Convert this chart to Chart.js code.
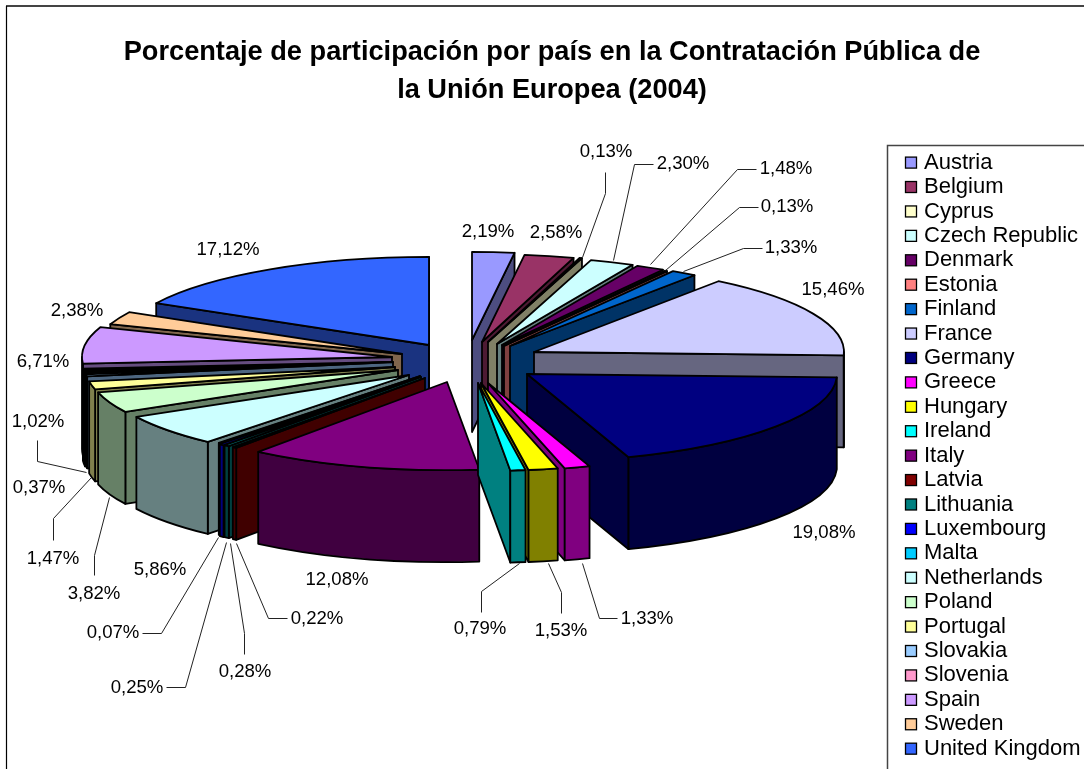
<!DOCTYPE html>
<html><head><meta charset="utf-8">
<script src="https://cdn.jsdelivr.net/npm/chart.js@4"></script>
<style>html,body{margin:0;padding:0;background:#fff}canvas{display:block}</style>
</head><body><canvas id="c" width="1084" height="769"></canvas>
<script>
const countries=["Austria","Belgium","Cyprus","Czech Republic","Denmark","Estonia","Finland","France","Germany","Greece","Hungary","Ireland","Italy","Latvia","Lithuania","Luxembourg","Malta","Netherlands","Poland","Portugal","Slovakia","Slovenia","Spain","Sweden","United Kingdom"];
const shares=[2.19,2.58,0.13,2.30,1.48,0.13,1.33,15.46,19.08,1.33,1.53,0.79,12.08,0.22,0.28,0.25,0.07,5.86,3.82,1.47,0.37,1.02,6.71,2.38,17.12];
const colors=["#9999FF","#993366","#FFFFCC","#CCFFFF","#660066","#FF8080","#0066CC","#CCCCFF","#000080","#FF00FF","#FFFF00","#00FFFF","#800080","#800000","#008080","#0000FF","#00CCFF","#CCFFFF","#CCFFCC","#FFFF99","#99CCFF","#FF99CC","#CC99FF","#FFCC99","#3366FF"];
// the Slovenia wedge renders black in the picture although its legend key is pink
const faceColors=colors.map((col,i)=>countries[i]==="Slovenia"?"#000000":col);
const titleLines=["Porcentaje de participación por país en la Contratación Pública de","la Unión Europea (2004)"];
// explosion of each wedge (px from the pie centre)
const explodeX=[22,32,38,47,52,54,60,84,77,38,31,28,-3,-25,-29,-30,-30,-41,-52,-55,-57,-58,-58,-48,-21];
const explodeY=[-10,-8,-8,-6,-5,-4,-4,2,24,33,33,33,32,28,27,27,26,25,20,17,12,12,7,4,-5];
// label centres and leader lines
const labelX=[488,556,606,683,786,787,791,833,824,647,561,480,337,317,245,137,113,160,94,53,39,38,43,77,228];
const labelY=[232,233,152,164,169,207,248,290,533,619,631,629,580,619,672,688,633,570,594,559,488,422,362,311,250];
const leaders={2:[[582,257],[605,193],[605,172]],3:[[613,260],[634,164],[653,164]],4:[[650,264],[737,169],[756,169]],5:[[665,270],[739,207],[758,207]],6:[[683,271],[743,248],[762,248]],9:[[582,563],[599,618],[617,618]],10:[[548,563],[561,592],[561,613]],11:[[519,563],[481,591],[481,612]],13:[[236,543],[268,618],[287,618]],14:[[230,543],[244,633],[244,654]],15:[[226,542],[185,687],[166,687]],16:[[218,537],[161,633],[142,633]],18:[[109,497],[94,555],[94,575]],19:[[91,477],[53,518],[53,540]],21:[[86,472],[37,461],[37,440]]};
const FONT='"Liberation Sans", Arial, sans-serif';
const PIE={cx:450,cy:350,k:0.284,depth:92,radius:310};

function shade(hex){const n=parseInt(hex.slice(1),16);const d=v=>Math.round(v/2);
  return `rgb(${d(n>>16&255)},${d(n>>8&255)},${d(n&255)})`;}

const pie3d={id:'pie3d',
  beforeDraw(chart){const c=chart.ctx;c.save();c.fillStyle='#fff';c.fillRect(0,0,1084,769);
    c.strokeStyle='#444';c.lineWidth=2;c.beginPath();c.moveTo(1084,6);c.lineTo(6,6);c.stroke();
    c.strokeStyle='#000';c.lineWidth=1.2;c.beginPath();c.moveTo(6.5,6);c.lineTo(6.5,769);c.stroke();c.restore();},
  beforeDatasetsDraw(chart){
    const c=chart.ctx,meta=chart.getDatasetMeta(0),{k,depth}=PIE;
    const slices=meta.data.map((arc,i)=>{
      const px=PIE.cx+explodeX[i],py=PIE.cy+explodeY[i],R=arc.outerRadius,mid=(arc.startAngle+arc.endAngle)/2;
      return {arc,i,px,py,R,order:py+k*R*0.6*Math.sin(mid)};
    }).sort((a,b)=>a.order-b.order);
    c.save();c.lineJoin='round';c.lineWidth=1.8;c.strokeStyle='#000';
    for(const s of slices){
      const {arc,i,px,py,R}=s,A=arc.startAngle,B=arc.endAngle,dark=shade(faceColors[i]);
      const P=(a,z)=>[px+R*Math.cos(a),py+k*R*Math.sin(a)+z];
      const cut=a=>{const p=P(a,0);c.beginPath();c.moveTo(px,py);c.lineTo(p[0],p[1]);c.lineTo(p[0],p[1]+depth);c.lineTo(px,py+depth);c.closePath();c.fillStyle=dark;c.fill();c.stroke();};
      if(Math.sin(A-Math.PI/2)>0)cut(A);
      if(Math.sin(B+Math.PI/2)>0)cut(B);
      const lo=Math.max(A,0),hi=Math.min(B,Math.PI);
      if(hi>lo){c.beginPath();c.ellipse(px,py,R,k*R,0,lo,hi,false);c.ellipse(px,py+depth,R,k*R,0,hi,lo,true);c.closePath();c.fillStyle=dark;c.fill();c.stroke();}
      c.save();c.translate(px,py);c.scale(1,k);c.translate(-arc.x,-arc.y);arc.draw(c);c.restore();
      c.beginPath();c.moveTo(px,py);c.ellipse(px,py,R,k*R,0,A,B,false);c.closePath();c.stroke();
    }
    c.restore();
    return false;
  },
  afterDraw(chart){
    const c=chart.ctx;c.save();
    // leaders
    c.strokeStyle='#222';c.lineWidth=1;
    Object.keys(leaders).forEach(key=>{const pts=leaders[key];c.beginPath();pts.forEach((p,j)=>j?c.lineTo(p[0]+.5,p[1]+.5):c.moveTo(p[0]+.5,p[1]+.5));c.stroke();});
    // data labels
    c.font='18.6px '+FONT;c.fillStyle='#000';c.textAlign='center';c.textBaseline='middle';
    shares.forEach((v,i)=>c.fillText(v.toFixed(2).replace('.',',')+'%',labelX[i],labelY[i]));
    // legend
    c.fillStyle='#fff';c.fillRect(888,146,196,623);
    c.strokeStyle='#444';c.lineWidth=1.5;c.beginPath();c.moveTo(887.5,769);c.lineTo(887.5,145.5);c.lineTo(1084,145.5);c.stroke();
    c.font='22px '+FONT;c.textAlign='left';
    countries.forEach((name,i)=>{const y=162.6+i*24.42;
      c.fillStyle=colors[i];c.fillRect(905.5,y-5.5,11,11);
      c.strokeStyle='#000';c.lineWidth=1.3;c.strokeRect(905.5,y-5.5,11,11);
      c.fillStyle='#000';c.fillText(name,924,y);});
    c.restore();
  }
};

new Chart(document.getElementById('c'),{
  type:'pie',
  data:{labels:countries,datasets:[{data:shares,backgroundColor:faceColors,borderWidth:0,radius:PIE.radius}]},
  plugins:[pie3d],
  options:{responsive:false,animation:false,
    layout:{padding:{left:20,top:23}},
    plugins:{legend:{display:false},tooltip:{enabled:false},
      title:{display:true,text:titleLines,color:'#000',font:{family:FONT,size:27.2,weight:'bold',lineHeight:1.4},padding:{top:10,bottom:10}}}}
});
</script></body></html>
